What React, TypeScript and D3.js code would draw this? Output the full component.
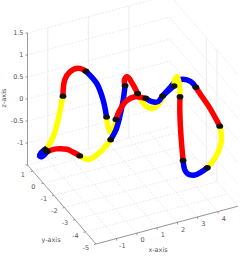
import React from "react";
import * as d3 from "d3";

const width = 243;
const height = 256;

// tick values
const xTicks = [-1, 0, 1, 2, 3, 4];
const yTicks = [-5, -4, -3, -2, -1, 0, 1];
const zTicks = [-1.5, -1, -0.5, 0, 0.5, 1, 1.5];
const zTickLabels = ["", "-1", "-0.5", "0", "0.5", "1", "1.5"];
const wallX = [-1, 1, 3];
const wallY = [-3, -2];

// depth can't be read from a single view, so the tube sits on one y plane
const tubeY = -2;

const red = "#ff0000";
const blue = "#0000ff";
const yellow = "#ffff00";

// tube pieces, drawn in this order
const pieceColor = [
  yellow, yellow, yellow, yellow, yellow,
  blue, blue, blue, blue, blue, blue,
  red, red, red, red, red, red,
  yellow,
];
const pieceX = [
  [0.08, 0.16, 0.28, 0.44, 0.54],
  [2.84, 2.79, 2.37, 1.97, 1.61],
  [-2.94, -2.86, -2.55, -2.31, -2.19, -2.07],
  [5.66, 5.74, 5.5, 5.05],
  [0.28, -0.05, -0.41, -0.84, -1.24],
  [2.01, 2.3, 2.62, 2.84, 3.2, 3.49, 3.85, 4.23, 4.48],
  [0.99, 0.9, 0.73, 0.54, 0.28],
  [-0.94, -0.41, -0.09, 0.08],
  [3.41, 3.1, 2.84],
  [5.05, 4.43, 4.08, 3.94, 3.85],
  [-2.86, -3.16, -3.23, -3.11, -2.86],
  [0.54, 0.73, 1.06, 1.47, 2.01],
  [1.61, 1.37, 1.1, 0.96, 0.99],
  [-2.07, -2.06, -1.98, -1.73, -1.32, -0.94],
  [4.48, 4.67, 5.17, 5.66],
  [3.85, 3.74, 3.69, 3.7],
  [-1.24, -1.58, -1.89, -2.38, -2.85],
  [3.7, 3.67, 3.56, 3.44, 3.41],
];
const pieceZ = [
  [0.3, 0.07, -0.08, 0.0, 0.19],
  [0.44, 0.36, 0.22, 0.34, 0.65],
  [-0.07, -0.04, 0.18, 0.53, 0.79, 1.04],
  [-0.59, -0.92, -1.23, -1.46],
  [-0.24, -0.39, -0.5, -0.55, -0.42],
  [0.49, 0.38, 0.34, 0.44, 0.58, 0.7, 0.7, 0.6, 0.44],
  [0.9, 0.59, 0.23, -0.05, -0.24],
  [1.47, 1.13, 0.71, 0.3],
  [0.6, 0.52, 0.44],
  [-1.46, -1.55, -1.48, -1.38, -1.15],
  [-0.04, -0.12, -0.17, -0.21, -0.13],
  [0.19, 0.38, 0.55, 0.59, 0.49],
  [0.65, 0.89, 1.09, 1.04, 0.9],
  [1.04, 1.18, 1.4, 1.55, 1.58, 1.47],
  [0.44, 0.28, -0.12, -0.59],
  [-1.15, -0.52, 0.02, 0.32],
  [-0.42, -0.29, -0.19, -0.12, -0.12],
  [0.32, 0.59, 0.79, 0.73, 0.6],
];

// knots between pieces
const knotX = [-2.94, -2.85, -2.07, -0.94, 0.08, 0.54, 2.01, 2.84, 3.41, 3.7, 3.85, 5.05, 5.66, 4.48, 0.99, 1.61, 0.28, -1.24];
const knotZ = [-0.07, -0.12, 1.04, 1.47, 0.3, 0.19, 0.49, 0.44, 0.6, 0.32, -1.15, -1.46, -0.59, 0.44, 0.9, 0.65, -0.24, -0.42];

const xDomain = [-2, 5];
const yDomain = [-5, 1.5];
const zDomain = [-1.5, 1.5];

// oblique view: every data axis moves the point along its own screen direction
const xToLeft = d3.scaleLinear().domain(xDomain).range([0, 142]);
const xToTop = d3.scaleLinear().domain(xDomain).range([0, -37.8]);
const yToLeft = d3.scaleLinear().domain(yDomain).range([0, -68.5]);
const yToTop = d3.scaleLinear().domain(yDomain).range([0, -79]);
const zToTop = d3.scaleLinear().domain(zDomain).range([0, -132]);

const project = (x: number, y: number, z: number): [number, number] => [
  96 + xToLeft(x) + yToLeft(y),
  244 + xToTop(x) + yToTop(y) + zToTop(z),
];

const seg = (a: [number, number, number], b: [number, number, number]) => {
  const p = project(...a);
  const q = project(...b);
  return { x1: p[0], y1: p[1], x2: q[0], y2: q[1] };
};

const tubeLine = d3
  .line<[number, number]>()
  .x((d) => d[0])
  .y((d) => d[1])
  .curve(d3.curveCatmullRom.alpha(0.5));

const [x0, x1] = xDomain;
const [y0, y1] = yDomain;
const [z0, z1] = zDomain;

const gridStyle = { stroke: "#e3e3e3", strokeWidth: 0.7, strokeDasharray: "2 1.5" };
const wallStyle = { stroke: "#ececec", strokeWidth: 1 };
const axisStyle = { stroke: "#808080", strokeWidth: 0.8 };
const labelStyle = { fontFamily: "DejaVu Sans", fontSize: 6.5, fill: "#555" };

export default function App() {
  return (
    <svg
      width={width}
      height={height}
      style={{ position: "fixed", left: 0, top: 0, background: "#fff" }}
    >
      {/* floor grid */}
      {xTicks.map((x) => (
        <line key={x} {...seg([x, y0, z0], [x, y1, z0])} {...gridStyle} />
      ))}
      {yTicks.map((y) => (
        <line key={y} {...seg([x0, y, z0], [x1, y, z0])} {...gridStyle} />
      ))}
      {/* back walls */}
      {zTicks.map((z) => (
        <g key={z}>
          <line {...seg([x0, y1, z], [x1, y1, z])} {...gridStyle} />
          <line {...seg([x1, y1, z], [x1, y0, z])} {...gridStyle} />
        </g>
      ))}
      {wallX.map((x) => (
        <line key={x} {...seg([x, y1, z0], [x, y1, z1])} {...wallStyle} />
      ))}
      {wallY.map((y) => (
        <line key={y} {...seg([x1, y, z0], [x1, y, z1])} {...wallStyle} />
      ))}

      {/* axes */}
      <line {...seg([x0, y0, z0], [x1, y0, z0])} {...axisStyle} />
      <line {...seg([x0, y0, z0], [x0, y1, z0])} {...axisStyle} />
      <line {...seg([x0, y1, z0], [x0, y1, z1])} {...axisStyle} />

      {xTicks.map((x) => {
        const [px, py] = project(x, y0, z0);
        return (
          <g key={x}>
            <line x1={px} y1={py} x2={px + 0.5} y2={py + 2} {...axisStyle} />
            <text x={px + 6} y={py + 7.5} textAnchor="middle" dominantBaseline="middle" {...labelStyle}>
              {x}
            </text>
          </g>
        );
      })}
      {yTicks.map((y) => {
        const [px, py] = project(x0, y, z0);
        return (
          <g key={y}>
            <line x1={px} y1={py} x2={px - 2} y2={py + 0.5} {...axisStyle} />
            <text x={px - 10} y={py + 4} textAnchor="middle" dominantBaseline="middle" {...labelStyle}>
              {y}
            </text>
          </g>
        );
      })}
      {zTicks.map((z, i) => {
        const [px, py] = project(x0, y1, z);
        return (
          <g key={z}>
            <line x1={px} y1={py} x2={px - 2} y2={py} {...axisStyle} />
            <text x={px - 4} y={py} textAnchor="end" dominantBaseline="middle" {...labelStyle}>
              {zTickLabels[i]}
            </text>
          </g>
        );
      })}

      <text x={158} y={250} textAnchor="middle" dominantBaseline="middle" {...labelStyle}>
        x-axis
      </text>
      <text x={51} y={240} textAnchor="middle" dominantBaseline="middle" {...labelStyle}>
        y-axis
      </text>
      <text
        transform="translate(4,98) rotate(-90)"
        textAnchor="middle"
        dominantBaseline="middle"
        {...labelStyle}
      >
        z-axis
      </text>

      {/* tube */}
      {pieceX.map((xs, i) => (
        <path
          key={i}
          d={tubeLine(xs.map((x, j) => project(x, tubeY, pieceZ[i][j]))) ?? ""}
          fill="none"
          stroke={pieceColor[i]}
          strokeWidth={5.5}
        />
      ))}
      {knotX.map((x, i) => {
        const [px, py] = project(x, tubeY, knotZ[i]);
        return <ellipse key={i} cx={px} cy={py} rx={3.4} ry={2.7} fill="#111" />;
      })}
    </svg>
  );
}
